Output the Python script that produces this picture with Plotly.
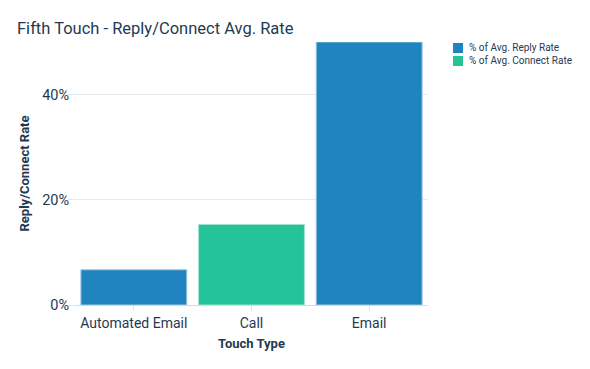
import plotly.graph_objects as go

categories = ["Automated Email", "Call", "Email"]
reply_cats = ["Automated Email", "Email"]
reply_vals = [6.7, 50.0]
connect_cats = ["Call"]
connect_vals = [15.3]
legend_names = ["% of Avg. Reply Rate", "% of Avg. Connect Rate"]
colors = ["#1F84BF", "#24C39A"]
border_colors = ["#9cc8e4", "#a0e3d0"]

W, H = 590, 369
L, R, T, B = 67, 170, 34, 72
pw, ph = W - L - R, H - T - B
TXT = "#1f3a52"

def px_x(p):
    return (p - L) / pw

def px_y(p):
    return 1 - (p - T) / ph

fig = go.Figure()
fig.add_trace(go.Bar(x=reply_cats, y=reply_vals, name=legend_names[0],
                     marker=dict(color=colors[0], line=dict(color=border_colors[0], width=1))))
fig.add_trace(go.Bar(x=connect_cats, y=connect_vals, name=legend_names[1],
                     marker=dict(color=colors[1], line=dict(color=border_colors[1], width=1))))

# custom compact legend
shapes, annotations = [], []
for i, (name, c) in enumerate(zip(legend_names, colors)):
    top = 35 + i * 13
    shapes.append(dict(type="rect", xref="paper", yref="paper",
                       x0=px_x(445), x1=px_x(455), y0=px_y(top + 10), y1=px_y(top),
                       fillcolor=c, line=dict(width=0)))
    annotations.append(dict(text=name, xref="paper", yref="paper", x=px_x(459), y=px_y(top + 5),
                            xanchor="left", yanchor="middle", showarrow=False,
                            font=dict(size=10, color=TXT, family="Roboto")))

# axis titles
annotations.append(dict(text="<b>Touch Type</b>", xref="paper", yref="paper", x=0.5, y=px_y(335),
                        xanchor="center", yanchor="middle", showarrow=False,
                        font=dict(size=13, color=TXT, family="Roboto")))
annotations.append(dict(text="<b>Reply/Connect Rate</b>", xref="paper", yref="paper", x=px_x(16), y=0.5,
                        xanchor="center", yanchor="middle", showarrow=False, textangle=-90,
                        font=dict(size=13, color=TXT, family="Roboto")))

fig.update_layout(
    width=W, height=H,
    barmode="overlay", bargap=0.1, showlegend=False,
    shapes=shapes, annotations=annotations,
    paper_bgcolor="white", plot_bgcolor="white",
    font=dict(family="Roboto", color=TXT),
    title=dict(text="Fifth Touch - Reply/Connect Avg. Rate", x=9 / W, xanchor="left",
               y=1 - 20 / H, yanchor="middle", font=dict(size=16.5, color=TXT, family="Roboto")),
    margin=dict(l=L, r=R, t=T, b=B),
    xaxis=dict(categoryorder="array", categoryarray=categories, ticks="outside", tickcolor="#dde3e8",
               ticklen=5, tickfont=dict(size=14), automargin=False, showline=False),
    yaxis=dict(range=[0, 50], tickvals=[0, 20, 40], ticktext=["0%", "20%", "40%"],
               tickfont=dict(size=14.5), gridcolor="#e6eaee", zeroline=True, zerolinecolor="#d5dbe0",
               zerolinewidth=1, ticks="outside", tickcolor="#dde3e8", ticklen=6, automargin=False,
               ticklabelstandoff=-4),
)
fig.write_html("out.html")
